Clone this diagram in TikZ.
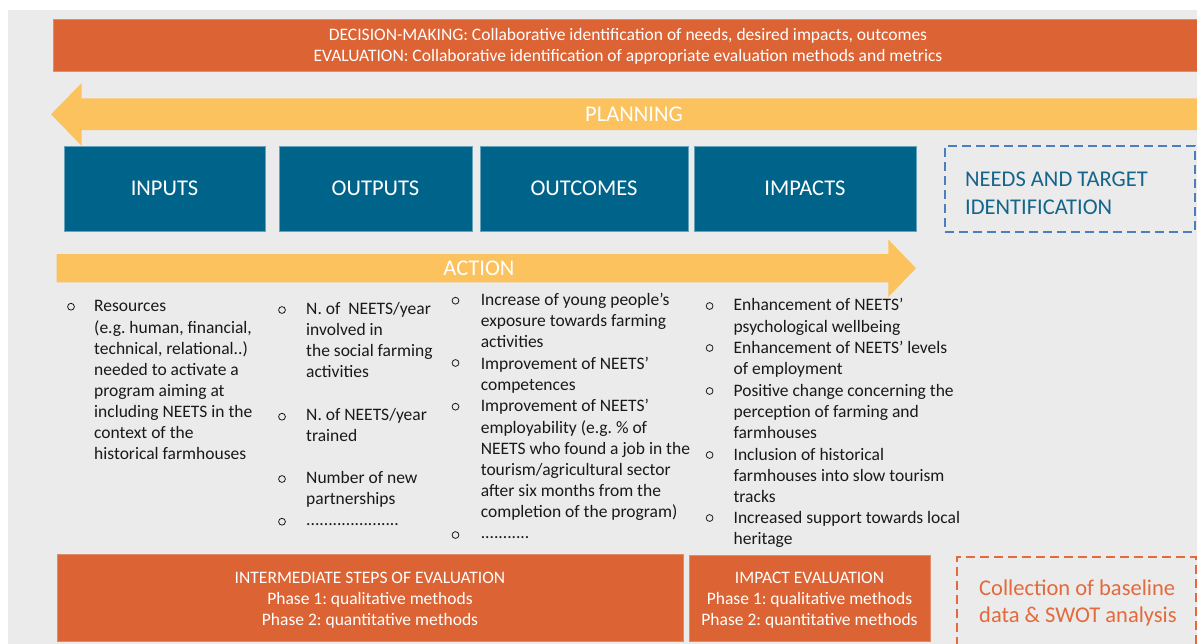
\documentclass[tikz,border=0pt]{standalone}
\usepackage{fontspec}
\setmainfont{Carlito}
\definecolor{bgg}{RGB}{235,235,235}
\definecolor{org}{RGB}{220,99,52}
\definecolor{ylw}{RGB}{252,194,94}
\definecolor{blu}{RGB}{0,100,138}
\definecolor{dblu}{RGB}{74,126,190}
\definecolor{ntxt}{RGB}{20,100,140}
\definecolor{dorg}{RGB}{226,106,60}
\definecolor{txt}{RGB}{25,25,25}
\newcommand{\bodyfont}{\fontsize{17.5}{21.1}\selectfont\frenchspacing}
\newcommand{\bigfont}{\fontsize{22.5}{28}\selectfont\frenchspacing}
\newcommand{\fst}{\rule{0pt}{14pt}}
\newcommand{\bst}{\rule{0pt}{18pt}}
\tikzset{
  orangebox/.style={fill=org, draw=org!75!white, line width=0.6pt, inner sep=0},
  bluebox/.style={fill=blu, draw=blu!60!white, line width=0.6pt, minimum height=85pt, inner sep=0, text=white, font=\bigfont},
  arrowlabel/.style={text=white, font=\bigfont, inner sep=0, anchor=base},
  whitetext/.style={anchor=north, inner sep=0, align=center, text=white, font=\bodyfont},
  itemtext/.style={anchor=north west, inner sep=0, align=left, text=txt, font=\bodyfont},
  bul/.style={circle, draw=txt, line width=0.8pt, minimum size=6.8pt, inner sep=0},
  dashbox/.style={line width=2.4pt, dash pattern=on 9pt off 5pt, inner sep=0},
}
\begin{document}
\begin{tikzpicture}[x=1pt,y=-1pt]
\useasboundingbox (0,0) rectangle (1197,643);
\clip (0,0) rectangle (1197,643);
\fill[white] (0,0) rectangle (1197,643);
\fill[bgg] (8,10) rectangle (1200,650);

% top banner
\node[orangebox, minimum width=1150pt, minimum height=52pt] (banner) at (628,45) {};
\node[whitetext] (bannertxt) at (628,26.5) {\fst DECISION-MAKING: Collaborative identification of needs, desired impacts, outcomes\\EVALUATION: Collaborative identification of appropriate evaluation methods and metrics};

% planning arrow
\fill[ylw] (1200,98.3) -- (81.5,98.3) -- (81.5,83.3) -- (51,114.3) -- (81.5,145.7) -- (81.5,130) -- (1200,130) -- cycle;
\node[arrowlabel] (planning) at (634,121.5) {PLANNING};

% blue boxes
\node[bluebox, minimum width=201pt] (inputs) at (164.5,188.5) {INPUTS};
\node[bluebox, minimum width=193pt] (outputs) at (375.5,188.5) {OUTPUTS};
\node[bluebox, minimum width=208pt] (outcomes) at (584,188.5) {OUTCOMES};
\node[bluebox, minimum width=222pt] (impacts) at (805,188.5) {IMPACTS};

% needs box
\node[dashbox, draw=dblu, minimum width=250pt, minimum height=86pt] (needs) at (1070,189) {};
\node[anchor=north west, inner sep=0, align=left, text=ntxt, font=\bigfont] (needstxt) at (965,168.5) {\bst NEEDS AND TARGET\\IDENTIFICATION};

% action arrow
\fill[ylw] (56.6,254) -- (888.3,254) -- (888.3,239.5) -- (916,268.2) -- (888.3,297) -- (888.3,282.3) -- (56.6,282.3) -- cycle;
\node[arrowlabel] (action) at (479,275) {ACTION};

% column 1
\node[bul] (b11) at (71,306.7) {};
\node[itemtext] (i11) at (94,297.7) {\fst Resources\\(e.g. human, financial,\\technical, relational..)\\needed to activate a\\program aiming at\\including NEETS in the\\context of the\\historical farmhouses};

% column 2
\node[bul] (b21) at (282,310) {};
\node[itemtext] (i21) at (306,300) {\fst N. of\ \ NEETS/year\\involved in\\the social farming\\activities};
\node[bul] (b22) at (282,416.7) {};
\node[itemtext] (i22) at (306,406) {\fst N. of NEETS/year\\trained};
\node[bul] (b23) at (282,479) {};
\node[itemtext] (i23) at (306,469.3) {\fst Number of new\\partnerships};
\node[bul] (b24) at (282,521.7) {};
\node[itemtext] (i24) at (306,511) {\fst .....................};

% column 3
\node[bul] (b31) at (455.5,300.7) {};
\node[itemtext] (i31) at (480.6,291) {\fst Increase of young people’s\\exposure towards farming\\activities};
\node[bul] (b32) at (455.5,363) {};
\node[itemtext] (i32) at (480.6,355) {\fst Improvement of NEETS’\\competences};
\node[bul] (b33) at (455.5,406.7) {};
\node[itemtext] (i33) at (480.6,397.7) {\fst Improvement of NEETS’\\employability (e.g. \% of\\NEETS who found a job in the\\tourism/agricultural sector\\after six months from the\\completion of the program)};
\node[bul] (b34) at (455.5,535) {};
\node[itemtext] (i34) at (480.6,524.3) {\fst ...........};

% column 4
\node[bul] (b41) at (709.6,306) {};
\node[itemtext] (i41) at (733.4,296.7) {\fst Enhancement of NEETS’\\psychological wellbeing};
\node[bul] (b42) at (709.6,348) {};
\node[itemtext] (i42) at (733.4,339.3) {\fst Enhancement of NEETS’ levels\\of employment};
\node[bul] (b43) at (709.6,391) {};
\node[itemtext] (i43) at (733.4,382) {\fst Positive change concerning the\\perception of farming and\\farmhouses};
\node[bul] (b44) at (709.6,455) {};
\node[itemtext] (i44) at (733.4,446) {\fst Inclusion of historical\\farmhouses into slow tourism\\tracks};
\node[bul] (b45) at (709.6,518) {};
\node[itemtext] (i45) at (733.4,509.3) {\fst Increased support towards local\\heritage};

% bottom boxes
\node[orangebox, minimum width=626pt, minimum height=87pt] (inter) at (370,597.5) {};
\node[whitetext] (intertxt) at (370,569.3) {\fst INTERMEDIATE STEPS OF EVALUATION\\Phase 1: qualitative methods\\Phase 2: quantitative methods};
\node[orangebox, minimum width=241pt, minimum height=86pt] (impev) at (809.5,598) {};
\node[whitetext] (impevtxt) at (809.5,569.3) {\fst IMPACT EVALUATION\\Phase 1: qualitative methods\\Phase 2: quantitative methods};

% collection box
\node[dashbox, draw=dorg, minimum width=239pt, minimum height=100pt] (coll) at (1076.5,607) {};
\node[anchor=north west, inner sep=0, align=left, text=dorg, font=\fontsize{22.5}{27}\selectfont] (colltxt) at (979,577) {\bst Collection of baseline\\data \& SWOT analysis};
\end{tikzpicture}
\end{document}
